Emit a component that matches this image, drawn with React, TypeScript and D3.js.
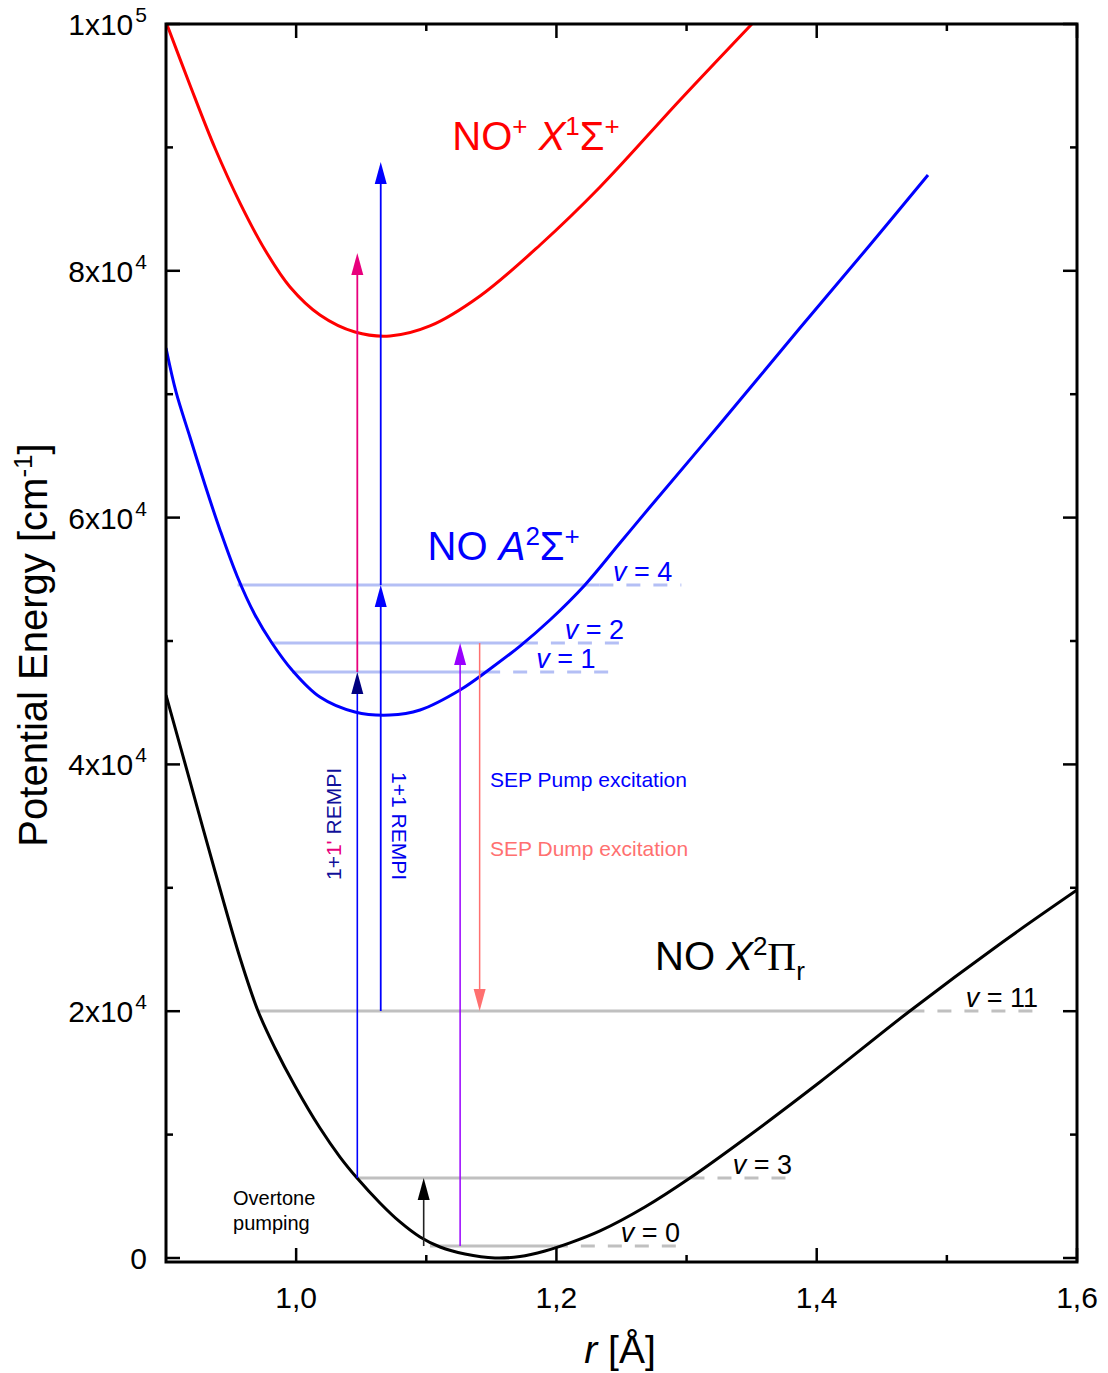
import React from "react";
import * as d3 from "d3";

// potential energy curves, [r in Å, energy in cm^-1]
const groundState: [number, number][] = [
  [0.9, 45620], [0.9184, 38650], [0.9376, 31360], [0.9569, 24310], [0.9707, 20020],
  [0.9837, 17020], [0.9991, 13940], [1.0183, 10530], [1.0337, 8180], [1.0468, 6480],
  [1.0644, 4460], [1.0798, 2920], [1.0952, 1700], [1.1106, 890], [1.1297, 320],
  [1.1528, 0], [1.172, 120], [1.1912, 570], [1.2104, 1220], [1.2335, 2190],
  [1.268, 4130], [1.3026, 6480], [1.3487, 9970], [1.4025, 14260], [1.4716, 20020],
  [1.5408, 25450], [1.6, 29820],
];

const excitedState: [number, number][] = [
  [0.9, 73740], [0.9077, 70180], [0.9184, 66530], [0.93, 62640], [0.9415, 59000],
  [0.9546, 55270], [0.9684, 52110], [0.9814, 49840], [0.9968, 47650], [1.0183, 45460],
  [1.0452, 44250], [1.0721, 44000], [1.0952, 44410], [1.1259, 46030], [1.1489, 47730],
  [1.172, 49590], [1.195, 51700], [1.2219, 54540], [1.2488, 57940], [1.2719, 60860],
  [1.3257, 67580], [1.3871, 75360], [1.4409, 82090], [1.4855, 87760],
];

const ionState: [number, number][] = [
  [0.9, 100160], [0.9184, 95060], [0.9376, 89950], [0.9569, 85490], [0.9761, 81690],
  [0.9953, 78690], [1.0183, 76420], [1.0452, 75040], [1.0721, 74720], [1.1028, 75530],
  [1.1413, 77960], [1.1874, 82090], [1.2335, 86790], [1.295, 93840], [1.3502, 100000],
];

// vibrational levels: energy, left turning point, right turning point, end of dashes, label end
const groundLevels = [
  { v: "0", e: 970, r0: 1.1028, r1: 1.198, r2: 1.295, lr: 1.295 },
  { v: "3", e: 6480, r0: 1.047, r1: 1.303, r2: 1.379, lr: 1.381 },
  { v: "11", e: 20020, r0: 0.971, r1: 1.472, r2: 1.572, lr: 1.57 },
];
const excitedLevels = [
  { v: "1", e: 47490, r0: 0.997, r1: 1.146, r2: 1.243, lr: 1.23 },
  { v: "2", e: 49840, r0: 0.981, r1: 1.175, r2: 1.252, lr: 1.252 },
  { v: "4", e: 54540, r0: 0.955, r1: 1.233, r2: 1.296, lr: 1.289 },
];

// transitions (vertical arrows): r, start energy, end energy
const transitions = [
  { id: "rempiA1", r: 1.047, from: 6480, to: 47490 },
  { id: "rempiA2", r: 1.047, from: 47490, to: 81440 },
  { id: "rempiB1", r: 1.065, from: 20020, to: 54540 },
  { id: "rempiB2", r: 1.065, from: 54540, to: 88820 },
  { id: "pump", r: 1.126, from: 970, to: 49840 },
  { id: "dump", r: 1.141, from: 49840, to: 20020 },
  { id: "overtone", r: 1.098, from: 970, to: 6480 },
];

const xTicks = [1.0, 1.2, 1.4, 1.6];
const xTickLabels = ["1,0", "1,2", "1,4", "1,6"];
const xMinorTicks = [1.1, 1.3, 1.5];
const yTicks = [0, 20000, 40000, 60000, 80000, 100000];
const yTickLabels: [string, string][] = [["0", ""], ["2x10", "4"], ["4x10", "4"], ["6x10", "4"], ["8x10", "4"], ["1x10", "5"]];
const yMinorTicks = [10000, 30000, 50000, 70000, 90000];

const arrowStyle: Record<string, { line: string; head: string; w: number }> = {
  rempiA1: { line: "#0000ff", head: "#000080", w: 1.6 },
  rempiA2: { line: "#e8007d", head: "#e8007d", w: 1.8 },
  rempiB1: { line: "#0000ff", head: "#0000ff", w: 1.8 },
  rempiB2: { line: "#0000ff", head: "#0000ff", w: 1.8 },
  pump: { line: "#9900ff", head: "#9900ff", w: 1.5 },
  dump: { line: "#ff7070", head: "#ff7070", w: 1.5 },
  overtone: { line: "#222222", head: "#000000", w: 1.6 },
};

const W = 1108;
const H = 1373;
const left = 166, right = 1077, top = 24, bottom = 1262;
const FONT = "'Liberation Sans', Arial, Helvetica, sans-serif";

export default function App() {
  const x = d3.scaleLinear().domain([0.9, 1.6]).range([left, right]);
  const y = d3.scaleLinear().domain([-324, 100000]).range([bottom, top]);

  const line = d3
    .line<[number, number]>()
    .x((d) => x(d[0]))
    .y((d) => y(d[1]))
    .curve(d3.curveCatmullRom.alpha(0.5));

  const levelLines = (levels: typeof groundLevels, color: string) =>
    levels.map((l) => (
      <g key={color + l.v}>
        <line x1={x(l.r0)} x2={x(l.r1)} y1={y(l.e)} y2={y(l.e)} stroke={color} strokeWidth={3} />
        <line x1={x(l.r1)} x2={x(l.r2)} y1={y(l.e)} y2={y(l.e)} stroke={color} strokeWidth={3} strokeDasharray="14,13" />
      </g>
    ));

  const levelLabels = (levels: typeof groundLevels, color: string) =>
    levels.map((l) => (
      <text key={"lab" + color + l.v} x={x(l.lr)} y={y(l.e) - 4} textAnchor="end" fontSize={27} fill={color} fontFamily={FONT}>
        <tspan fontStyle="italic">v</tspan> = {l.v}
      </text>
    ));

  const headLen = 22;
  const headHalf = 6;

  return (
    <svg width={W} height={H} style={{ position: "absolute", left: 0, top: 0, background: "#fff" }} fontFamily={FONT}>
      <defs>
        <clipPath id="plot">
          <rect x={left} y={top} width={right - left} height={bottom - top} />
        </clipPath>
      </defs>

      {/* vibrational levels */}
      {levelLines(groundLevels, "#c0c0c0")}
      {levelLines(excitedLevels, "#b4bff5")}

      {/* potential curves */}
      <g clipPath="url(#plot)" fill="none" strokeWidth={3} strokeLinejoin="round">
        <path d={line(groundState) ?? ""} stroke="#000" />
        <path d={line(excitedState) ?? ""} stroke="#0000ff" />
        <path d={line(ionState) ?? ""} stroke="#ff0000" />
      </g>

      {/* transitions */}
      {transitions.map((t) => {
        const s = arrowStyle[t.id];
        const px = x(t.r);
        const y0 = y(t.from);
        const y1 = y(t.to);
        const dir = y1 < y0 ? 1 : -1;
        const base = y1 + dir * headLen;
        return (
          <g key={t.id}>
            <line x1={px} x2={px} y1={y0} y2={base} stroke={s.line} strokeWidth={s.w} />
            <polygon points={`${px},${y1} ${px - headHalf},${base} ${px + headHalf},${base}`} fill={s.head} />
          </g>
        );
      })}

      {/* level labels */}
      {levelLabels(groundLevels, "#000")}
      {levelLabels(excitedLevels, "#0000ff")}

      {/* state labels */}
      <text x={x(1.12)} y={y(89800)} fontSize={40} fill="#ff0000">
        NO<tspan dy={-15} fontSize={26}>+</tspan>
        <tspan dy={15}> </tspan>
        <tspan fontStyle="italic">X</tspan>
        <tspan dy={-15} fontSize={26}>1</tspan>
        <tspan dy={15}>Σ</tspan>
        <tspan dy={-15} fontSize={26}>+</tspan>
      </text>
      <text x={x(1.101)} y={y(56560)} fontSize={40} fill="#0000ff">
        NO <tspan fontStyle="italic">A</tspan>
        <tspan dy={-15} fontSize={26}>2</tspan>
        <tspan dy={15}>Σ</tspan>
        <tspan dy={-15} fontSize={26}>+</tspan>
      </text>
      <text x={x(1.2758)} y={y(23340)} fontSize={40} fill="#000">
        NO <tspan fontStyle="italic">X</tspan>
        <tspan dy={-15} fontSize={26}>2</tspan>
        <tspan dy={15} fontFamily="'Liberation Serif', 'Times New Roman', serif">Π</tspan>
        <tspan dy={10} fontSize={26}>r</tspan>
      </text>

      <text x={x(1.149)} y={y(38170)} fontSize={21} fill="#0000ff">SEP Pump excitation</text>
      <text x={x(1.149)} y={y(32580)} fontSize={21} fill="#ff7070">SEP Dump excitation</text>
      <text x={x(0.9515)} y={y(4295)} fontSize={20} fill="#000">Overtone</text>
      <text x={x(0.9515)} y={y(2270)} fontSize={20} fill="#000">pumping</text>

      <text transform={`translate(${x(1.0345)},${y(30630)}) rotate(-90)`} fontSize={21} fill="#10109a">
        1+<tspan fill="#e8007d">1'</tspan> REMPI
      </text>
      <text transform={`translate(${x(1.0736)},${y(39380)}) rotate(90)`} fontSize={21} fill="#0000ee">
        1+1 REMPI
      </text>

      {/* frame */}
      <rect x={left} y={top} width={right - left} height={bottom - top} fill="none" stroke="#000" strokeWidth={3} />

      {/* ticks */}
      <g stroke="#000" strokeWidth={2.5}>
        {xTicks.map((t) => (
          <g key={"xt" + t}>
            <line x1={x(t)} x2={x(t)} y1={bottom} y2={bottom - 14} />
            <line x1={x(t)} x2={x(t)} y1={top} y2={top + 14} />
          </g>
        ))}
        {xMinorTicks.map((t) => (
          <g key={"xm" + t}>
            <line x1={x(t)} x2={x(t)} y1={bottom} y2={bottom - 7} />
            <line x1={x(t)} x2={x(t)} y1={top} y2={top + 7} />
          </g>
        ))}
        {yTicks.map((t) => (
          <g key={"yt" + t}>
            <line x1={left} x2={left + 14} y1={y(t)} y2={y(t)} />
            <line x1={right} x2={right - 14} y1={y(t)} y2={y(t)} />
          </g>
        ))}
        {yMinorTicks.map((t) => (
          <g key={"ym" + t}>
            <line x1={left} x2={left + 7} y1={y(t)} y2={y(t)} />
            <line x1={right} x2={right - 7} y1={y(t)} y2={y(t)} />
          </g>
        ))}
      </g>

      {/* tick labels */}
      {xTicks.map((t, i) => (
        <text key={"xl" + t} x={x(t)} y={bottom + 46} textAnchor="middle" fontSize={30} fill="#000">
          {xTickLabels[i]}
        </text>
      ))}
      {yTicks.map((t, i) => (
        <text key={"yl" + t} x={147} y={y(t) + 11} textAnchor="end" fontSize={30} fill="#000">
          {yTickLabels[i][0]}
          {yTickLabels[i][1] && (
            <tspan dx={2} dy={-13} fontSize={21}>
              {yTickLabels[i][1]}
            </tspan>
          )}
        </text>
      ))}

      {/* axis titles */}
      <text transform={`translate(47,645) rotate(-90)`} textAnchor="middle" fontSize={40} fill="#000">
        Potential Energy [cm<tspan dy={-15} fontSize={26}>-1</tspan>
        <tspan dy={15}>]</tspan>
      </text>
      <text x={620} y={1363} textAnchor="middle" fontSize={39} fill="#000">
        <tspan fontStyle="italic">r</tspan> [Å]
      </text>
    </svg>
  );
}
